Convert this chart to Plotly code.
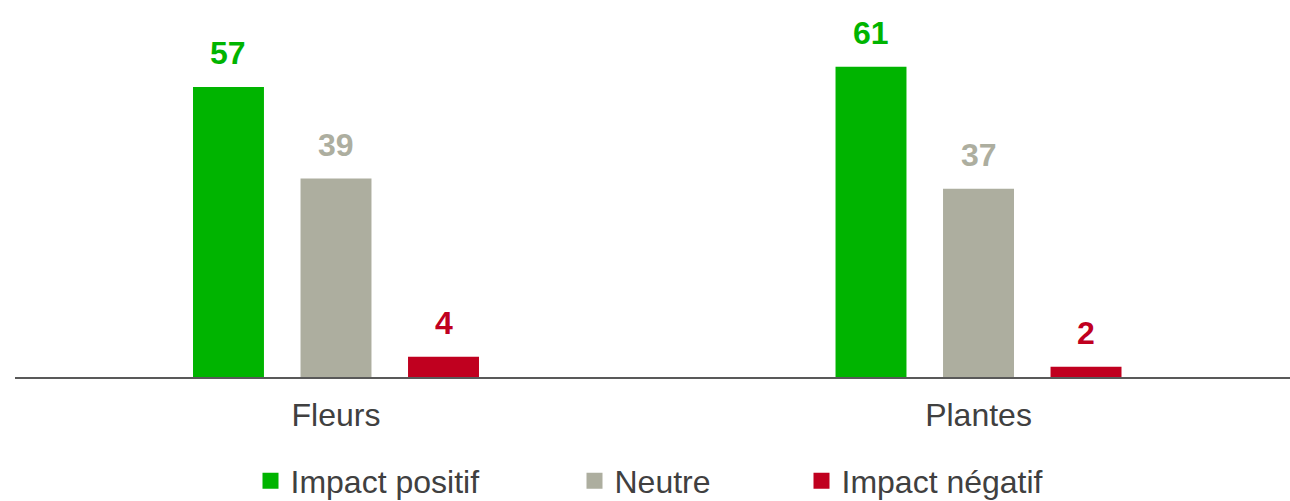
import plotly.graph_objects as go

categories = ["Fleurs", "Plantes"]
series_names = ["Impact positif", "Neutre", "Impact négatif"]
impact_positif = [57, 61]
neutre = [39, 37]
impact_negatif = [4, 2]
series_values = [impact_positif, neutre, impact_negatif]
colors = ["#00B400", "#ADAE9F", "#C0001F"]
legend_ids = ["legend", "legend2", "legend3"]

FONT = "Liberation Sans, Arial, sans-serif"
TEXT_COLOR = "#404040"

bargap = 0.498
n_series = len(series_names)
slot = (1 - bargap) / n_series

fig = go.Figure()
for k, (name, vals, col) in enumerate(zip(series_names, series_values, colors)):
    fig.add_trace(go.Bar(
        x=categories, y=vals, name=name, marker_color=col,
        marker_line_width=0, showlegend=False,
    ))
    # legend entry (square marker)
    fig.add_trace(go.Scatter(
        x=[None], y=[None], mode="markers", name=name,
        marker=dict(symbol="square", size=16, color=col),
        legend=legend_ids[k], showlegend=True, hoverinfo="skip",
    ))
    # value labels above bars
    for i, v in enumerate(vals):
        fig.add_annotation(
            x=i + (k - (n_series - 1) / 2) * slot, y=v, xref="x", yref="y",
            text=f"<b>{v}</b>", showarrow=False, yanchor="bottom", yshift=14,
            font=dict(family=FONT, size=32, color=col),
        )

legend_common = dict(
    orientation="h", yanchor="middle", xanchor="left",
    font=dict(family=FONT, size=32, color=TEXT_COLOR),
    bgcolor="rgba(0,0,0,0)", borderwidth=0, itemclick=False,
)
plot_l, plot_w = 15, 1275
text_starts = [292.5, 616.5, 843.5]
legend_layout = {}
for lid, ts in zip(legend_ids, text_starts):
    d = dict(legend_common)
    d["x"] = (ts - 42 - plot_l) / plot_w
    d["y"] = -0.276
    legend_layout[lid] = d

fig.update_layout(
    width=1290, height=501,
    margin=dict(l=plot_l, r=0, t=0, b=124, autoexpand=False),
    paper_bgcolor="white", plot_bgcolor="white",
    barmode="group", bargap=bargap, bargroupgap=0.34,
    font=dict(family=FONT, color=TEXT_COLOR),
    xaxis=dict(
        type="category", range=[-0.4996, 1.4848],
        showline=True, linecolor="#595959", linewidth=2,
        showgrid=False, zeroline=False, ticks="",
        ticklabelstandoff=9,
        tickfont=dict(family=FONT, size=32, color=TEXT_COLOR),
    ),
    yaxis=dict(range=[0, 74.1], visible=False, showgrid=False, zeroline=False),
    **legend_layout,
)

fig.write_html(
    "out.html",
    config={"displayModeBar": False},
    post_script="document.body.style.margin='0';document.body.style.overflow='hidden';",
)
